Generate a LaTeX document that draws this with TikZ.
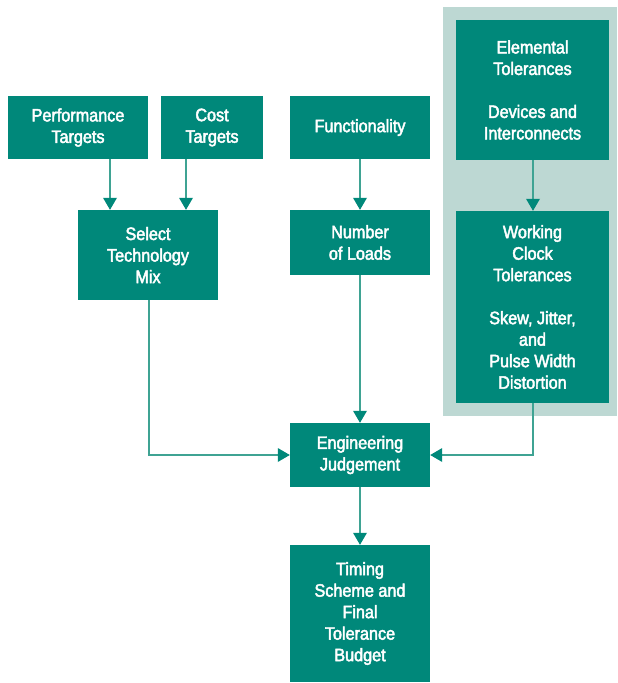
\documentclass[tikz,border=0pt]{standalone}
\usepackage{fontspec}
\setmainfont{Liberation Sans}[FakeStretch=0.9,FakeBold=2.5]
\usetikzlibrary{arrows.meta}
\definecolor{boxteal}{HTML}{00887A}
\definecolor{bgteal}{HTML}{BDD8D3}
\definecolor{lineteal}{HTML}{3FA393}
\begin{document}
\begin{tikzpicture}[x=1pt,y=1pt,
  box/.style={fill=boxteal, draw=none, text=white, align=center, inner sep=0pt,
    font=\fontsize{18}{21.5}\selectfont},
  arr/.style={draw=lineteal, line width=1.4pt,
    -{Triangle[width=14pt,length=12pt,color=boxteal,line width=0pt]}}]
\useasboundingbox (0,0) rectangle (618,-683);
\node[fill=bgteal, minimum width=174pt, minimum height=409pt, inner sep=0pt] (bg) at (530,-211.5) {};
\node[box, minimum width=140pt, minimum height=63pt] (perf) at (78,-127.5) {Performance\\Targets};
\node[box, minimum width=102pt, minimum height=63pt] (cost) at (212,-127.5) {Cost\\Targets};
\node[box, minimum width=140pt, minimum height=63pt] (func) at (360,-127.5) {Functionality};
\node[box, minimum width=140pt, minimum height=90pt] (select) at (148,-255) {Select\\Technology\\Mix};
\node[box, minimum width=140pt, minimum height=65pt] (loads) at (360,-242.5) {Number\\of Loads};
\node[box, minimum width=153pt, minimum height=140pt] (elem) at (532.5,-90) {Elemental\\Tolerances\\[21.5pt]Devices and\\Interconnects};
\node[box, minimum width=153pt, minimum height=192pt] (clock) at (532.5,-307) {Working\\Clock\\Tolerances\\[21.5pt]Skew, Jitter,\\and\\Pulse Width\\Distortion};
\node[box, minimum width=140pt, minimum height=64pt] (eng) at (360,-455) {Engineering\\Judgement};
\node[box, minimum width=140pt, minimum height=137pt] (timing) at (360,-613.5) {Timing\\Scheme and\\Final\\Tolerance\\Budget};
\coordinate (xp) at (110,0);
\coordinate (xc) at (186,0);
\coordinate (xs) at (149,0);
\coordinate (xw) at (533,0);
\draw[arr] (perf.south -| xp) -- (select.north -| xp);
\draw[arr] (cost.south -| xc) -- (select.north -| xc);
\draw[arr] (func.south) -- (loads.north);
\draw[arr] (elem.south -| xw) -- (clock.north -| xw);
\draw[arr] (select.south -| xs) |- (eng.west);
\draw[arr] (loads.south) -- (eng.north);
\draw[arr] (clock.south -| xw) |- (eng.east);
\draw[arr] (eng.south) -- (timing.north);
\end{tikzpicture}
\end{document}
